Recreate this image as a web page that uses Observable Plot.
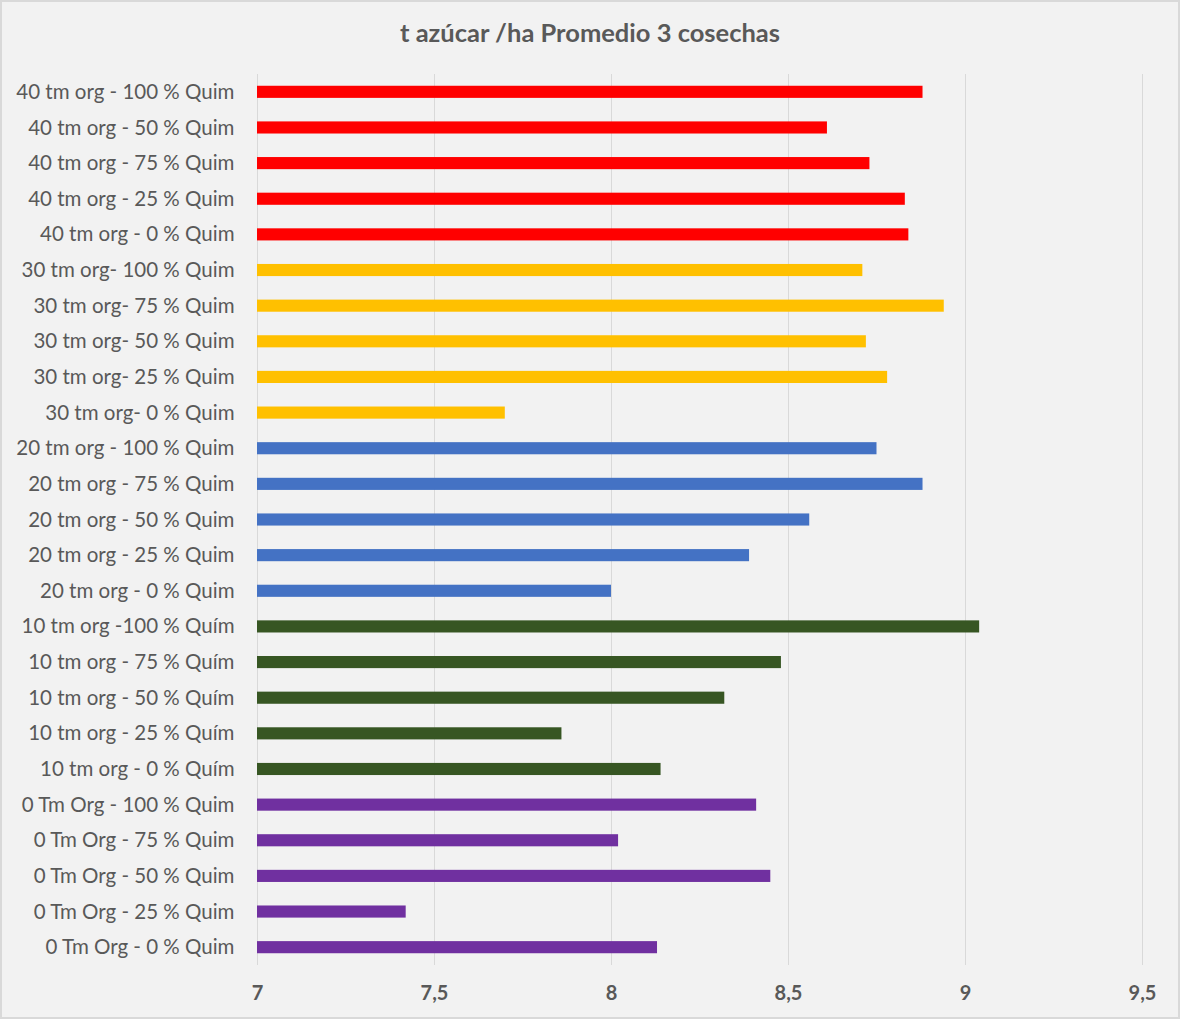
<!DOCTYPE html>
<html>
<head>
<meta charset="utf-8">
<script src="https://cdn.jsdelivr.net/npm/d3@7"></script>
<script src="https://cdn.jsdelivr.net/npm/@observablehq/plot@0.6"></script>
<style>
  html, body { margin: 0; padding: 0; background: #f2f2f2; }
  #frame {
    position: relative;
    width: 1180px;
    height: 1019px;
    background: #f2f2f2;
    outline: 2px solid #d9d9d9;
    outline-offset: -2px;
    overflow: hidden;
    font-family: Lato, "Open Sans", sans-serif;
  }
  #title {
    height: 60px;
    line-height: 65px;
    text-align: center;
    font-size: 25.5px;
    font-weight: bold;
    color: #595959;
  }
</style>
</head>
<body>
<div id="frame">
  <div id="title">t azúcar /ha Promedio 3 cosechas</div>
  <div id="chart"></div>
</div>
<script>
// Treatments, top to bottom
const labels = [
  "40 tm org - 100 % Quim",
  "40 tm org - 50 % Quim",
  "40 tm org - 75 % Quim",
  "40 tm org - 25 % Quim",
  "40 tm org - 0 % Quim",
  "30 tm org- 100 % Quim",
  "30 tm org- 75 % Quim",
  "30 tm org- 50 % Quim",
  "30 tm org- 25 % Quim",
  "30 tm org- 0 % Quim",
  "20 tm org - 100 % Quim",
  "20 tm org - 75 % Quim",
  "20 tm org - 50 % Quim",
  "20 tm org - 25 % Quim",
  "20 tm org - 0 % Quim",
  "10 tm org -100 % Quím",
  "10 tm org - 75 % Quím",
  "10 tm org - 50 % Quím",
  "10 tm org - 25 % Quím",
  "10 tm org - 0 % Quím",
  "0 Tm Org - 100 % Quim",
  "0 Tm Org - 75 % Quim",
  "0 Tm Org - 50 % Quim",
  "0 Tm Org - 25 % Quim",
  "0 Tm Org - 0 % Quim"
];

// t azúcar/ha, average of 3 harvests
const values = [
  8.88, 8.61, 8.73, 8.83, 8.84,
  8.71, 8.94, 8.72, 8.78, 7.70,
  8.75, 8.88, 8.56, 8.39, 8.00,
  9.04, 8.48, 8.32, 7.86, 8.14,
  8.41, 8.02, 8.45, 7.42, 8.13
];

// Organic dose group of each treatment
const groups = [
  "40", "40", "40", "40", "40",
  "30", "30", "30", "30", "30",
  "20", "20", "20", "20", "20",
  "10", "10", "10", "10", "10",
  "0", "0", "0", "0", "0"
];

const groupNames = ["40", "30", "20", "10", "0"];
const groupColors = ["#ff0000", "#ffc000", "#4472c4", "#375623", "#7030a0"];

const xTicks = [7, 7.5, 8, 8.5, 9, 9.5];

const rows = labels.map((label, i) => ({label, value: values[i], group: groups[i]}));

const chart = Plot.plot({
  width: 1180,
  height: 959,
  marginTop: 14,
  marginBottom: 54,
  marginLeft: 257,
  marginRight: 38,
  style: {
    background: "transparent",
    color: "#595959",
    fontFamily: "Lato, 'Open Sans', sans-serif"
  },
  x: {domain: [7, 9.5], ticks: xTicks, label: null},
  y: {domain: labels, paddingInner: 0.66, paddingOuter: 0.33, round: false, axis: null, label: null},
  color: {domain: groupNames, range: groupColors},
  marks: [
    Plot.gridX(xTicks, {stroke: "#d9d9d9", strokeOpacity: 1, strokeWidth: 1}),
    Plot.barX(rows, {x1: 7, x2: "value", y: "label", fill: "group"}),
    Plot.axisY(labels, {
      tickSize: 0,
      tickPadding: 23,
      fontSize: 20.5,
      fill: "#595959",
      label: null
    }),
    Plot.axisX(xTicks, {
      tickSize: 0,
      tickPadding: 20,
      fontSize: 20,
      fontWeight: "bold",
      fill: "#595959",
      label: null,
      tickFormat: d => String(d).replace(".", ",")
    })
  ]
});

document.getElementById("chart").appendChild(chart);
</script>
</body>
</html>
